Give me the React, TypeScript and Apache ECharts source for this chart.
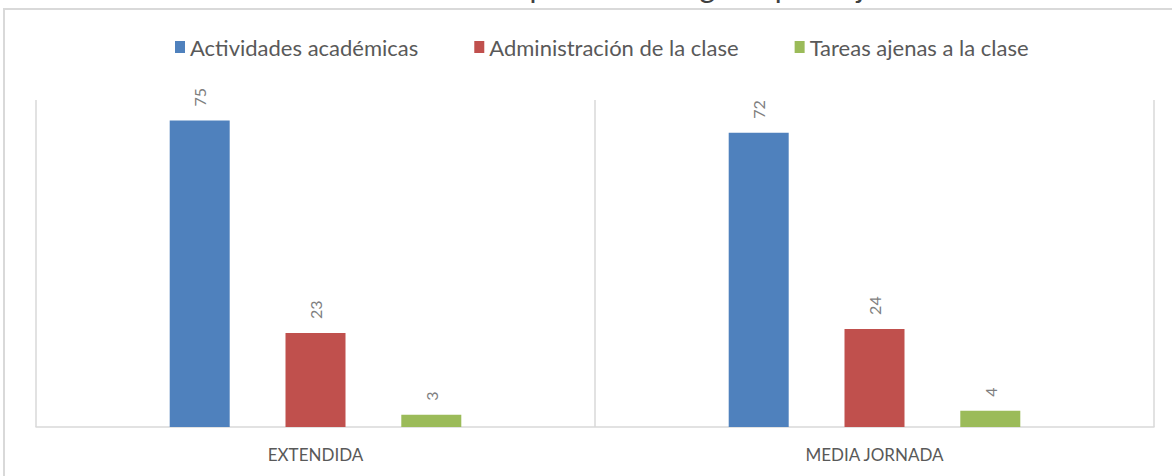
import React, { useEffect, useRef } from "react";
import * as echarts from "echarts";

const titleText = "Gráfico 3. Uso del tiempo escolar según tipo de jornada";
const categories = ["EXTENDIDA", "MEDIA JORNADA"];
const seriesNames = ["Actividades académicas", "Administración de la clase", "Tareas ajenas a la clase"];
const academicas = [75, 72];
const administracion = [23, 24];
const ajenas = [3, 4];
const colors = ["#4f81bd", "#c0504d", "#9bbb59"];

export default function App() {
  const ref = useRef<HTMLDivElement>(null);
  useEffect(() => {
    const chart = echarts.init(ref.current!, null, { renderer: "svg" });
    const values = [academicas, administracion, ajenas];
    const font = "Lato, 'Noto Sans', sans-serif";
    chart.setOption({
      animation: false,
      backgroundColor: "#ffffff",
      textStyle: { fontFamily: font },
      graphic: [
        {
          type: "rect",
          shape: { x: 4, y: 9, width: 1190, height: 490 },
          style: { fill: "none", stroke: "#d9d9d9", lineWidth: 2 },
          silent: true,
        },
        {
          type: "text",
          x: 592,
          y: 1,
          style: {
            text: titleText,
            fontSize: 30,
            fill: "#404040",
            fontFamily: font,
            align: "center",
            verticalAlign: "bottom",
          },
          silent: true,
        },
      ],
      legend: {
        top: 31,
        left: 170,
        itemWidth: 10,
        itemHeight: 12,
        itemGap: 56,
        icon: "rect",
        textStyle: { fontSize: 22, color: "#595959", fontFamily: font },
        data: seriesNames,
      },
      grid: { left: 36, right: 18, top: 100, bottom: 49, containLabel: false },
      xAxis: {
        type: "category",
        data: categories,
        axisLine: { show: true, lineStyle: { color: "#d9d9d9", width: 1.5 } },
        axisTick: { show: false },
        splitLine: { show: true, lineStyle: { color: "#d9d9d9", width: 1.5 } },
        axisLabel: { fontSize: 17, color: "#595959", margin: 19, fontFamily: font },
      },
      yAxis: {
        type: "value",
        min: 0,
        max: 80,
        show: false,
        splitLine: { show: false },
      },
      series: seriesNames.map((name, i) => ({
        name,
        type: "bar",
        data: values[i],
        barWidth: 60,
        barGap: "93%",
        itemStyle: { color: colors[i] },
        label: {
          show: true,
          position: "top",
          rotate: 90,
          align: "left",
          verticalAlign: "middle",
          distance: 14,
          fontSize: 16,
          color: "#7f7f7f",
          fontFamily: font,
        },
      })),
    });
    return () => chart.dispose();
  }, []);
  return (
    <div
      ref={ref}
      style={{ position: "absolute", left: 0, top: 0, width: 1172, height: 476 }}
    />
  );
}
